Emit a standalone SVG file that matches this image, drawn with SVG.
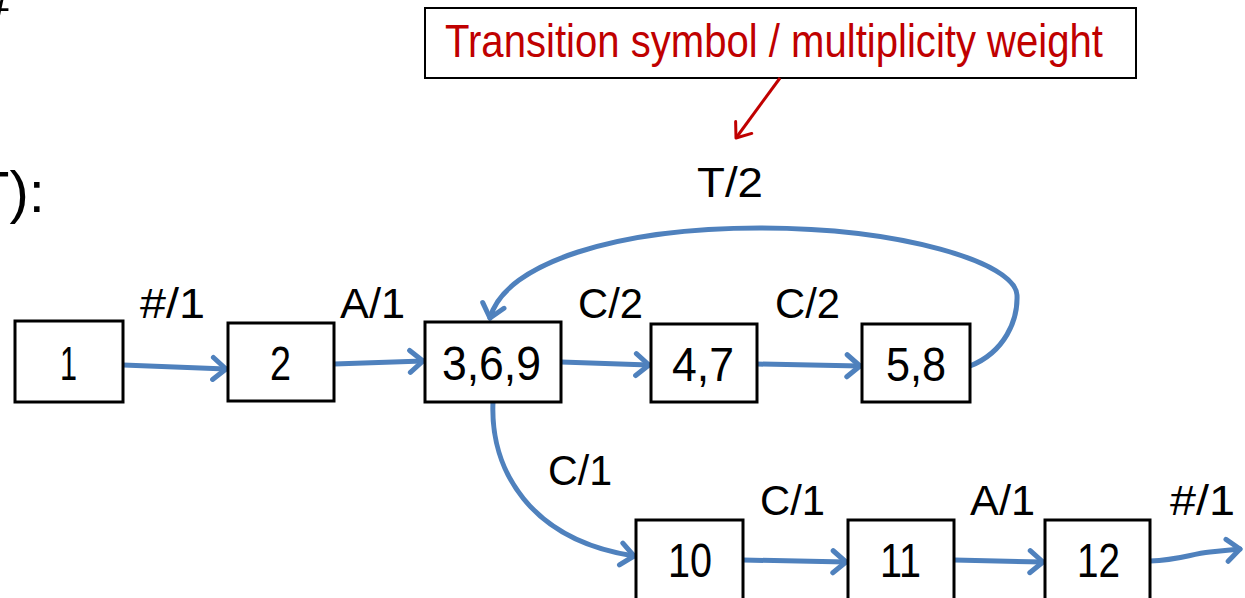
<svg xmlns="http://www.w3.org/2000/svg" width="1245" height="598" viewBox="0 0 1245 598">
<style>
.box{fill:#fff;stroke:#000;stroke-width:3}
.lbl{font-family:"Liberation Sans",Arial,sans-serif;font-size:42px;fill:#000}
.nt{font-family:"Liberation Sans",Arial,sans-serif;font-size:48px;fill:#000}
.edge{fill:none;stroke:#4F81BD;stroke-width:5;stroke-linecap:round;marker-end:url(#ah)}
</style>
<defs>
<marker id="ah" markerUnits="userSpaceOnUse" viewBox="-16 -14 20 28" markerWidth="20" markerHeight="28" refX="0" refY="0" orient="auto">
<path d="M-13,-11 L0,0 L-13,11" fill="none" stroke="#4F81BD" stroke-width="5" stroke-linecap="round" stroke-linejoin="round"/>
</marker>
<marker id="ahr" markerUnits="userSpaceOnUse" viewBox="-16 -14 20 28" markerWidth="20" markerHeight="28" refX="0" refY="0" orient="auto">
<path d="M-13,-10 L0,0 L-13,10" fill="none" stroke="#C00000" stroke-width="3" stroke-linecap="round" stroke-linejoin="round"/>
</marker>
</defs>
<text x="-20" y="22" style="font-family:'Liberation Sans',Arial,sans-serif;font-size:54px">#</text>
<text x="-26" y="212" style="font-family:'Liberation Sans',Arial,sans-serif;font-size:58px">T):</text>
<g id="callout">
<rect x="425" y="8" width="711" height="70" fill="#fff" stroke="#000" stroke-width="2"/>
<text x="445" y="57" style="font-family:'Liberation Sans',Arial,sans-serif;font-size:46px;fill:#C00000" textLength="658" lengthAdjust="spacingAndGlyphs">Transition symbol / multiplicity weight</text>
</g>
<g id="connectors">
<path class="edge" d="M123,365 L226,369"/>
<path class="edge" d="M334,364 L423,361"/>
<path class="edge" d="M561,362 L649,365"/>
<path class="edge" d="M757,364 L860,366"/>
<path class="edge" d="M970,366 C1005,352 1018,320 1017,295 C1015,262 900,228 760,228 C620,228 505,262 490,318"/>
<path class="edge" d="M493,402 C490,470 530,540 634,556"/>
<path class="edge" d="M743,560 L846,562"/>
<path class="edge" d="M954,560 L1043,562"/>
<path class="edge" d="M1150,561 C1180,560 1190,554 1210,552 L1240,549"/>
<path d="M780,78 L736,138" fill="none" stroke="#C00000" stroke-width="3" marker-end="url(#ahr)"/>
</g>
<g id="labels">
<text class="lbl" x="140" y="318" textLength="65" lengthAdjust="spacingAndGlyphs">#/1</text>
<text class="lbl" x="340" y="318" textLength="65" lengthAdjust="spacingAndGlyphs">A/1</text>
<text class="lbl" x="578" y="318" textLength="65" lengthAdjust="spacingAndGlyphs">C/2</text>
<text class="lbl" x="775" y="318" textLength="65" lengthAdjust="spacingAndGlyphs">C/2</text>
<text class="lbl" x="697" y="197" textLength="66" lengthAdjust="spacingAndGlyphs">T/2</text>
<text class="lbl" x="548" y="485" textLength="64" lengthAdjust="spacingAndGlyphs">C/1</text>
<text class="lbl" x="760" y="515" textLength="65" lengthAdjust="spacingAndGlyphs">C/1</text>
<text class="lbl" x="970" y="515" textLength="65" lengthAdjust="spacingAndGlyphs">A/1</text>
<text class="lbl" x="1170" y="515" textLength="65" lengthAdjust="spacingAndGlyphs">#/1</text>
</g>
<g id="n1"><rect class="box" x="15" y="321" width="108" height="81"/><text class="nt" x="60" y="380" textLength="17" lengthAdjust="spacingAndGlyphs">1</text></g>
<g id="n2"><rect class="box" x="228" y="323" width="106" height="78"/><text class="nt" x="270" y="380" textLength="21" lengthAdjust="spacingAndGlyphs">2</text></g>
<g id="n369"><rect class="box" x="425" y="322" width="136" height="80"/><text class="nt" x="442" y="380" textLength="99" lengthAdjust="spacingAndGlyphs">3,6,9</text></g>
<g id="n47"><rect class="box" x="651" y="324" width="106" height="78"/><text class="nt" x="672" y="381" textLength="62" lengthAdjust="spacingAndGlyphs">4,7</text></g>
<g id="n58"><rect class="box" x="862" y="324" width="108" height="78"/><text class="nt" x="886" y="381" textLength="60" lengthAdjust="spacingAndGlyphs">5,8</text></g>
<g id="n10"><rect class="box" x="636" y="520" width="107" height="80"/><text class="nt" x="668" y="577" textLength="44" lengthAdjust="spacingAndGlyphs">10</text></g>
<g id="n11"><rect class="box" x="848" y="520" width="106" height="80"/><text class="nt" x="880" y="577" textLength="41" lengthAdjust="spacingAndGlyphs">11</text></g>
<g id="n12"><rect class="box" x="1045" y="520" width="105" height="80"/><text class="nt" x="1077" y="577" textLength="43" lengthAdjust="spacingAndGlyphs">12</text></g>
</svg>
